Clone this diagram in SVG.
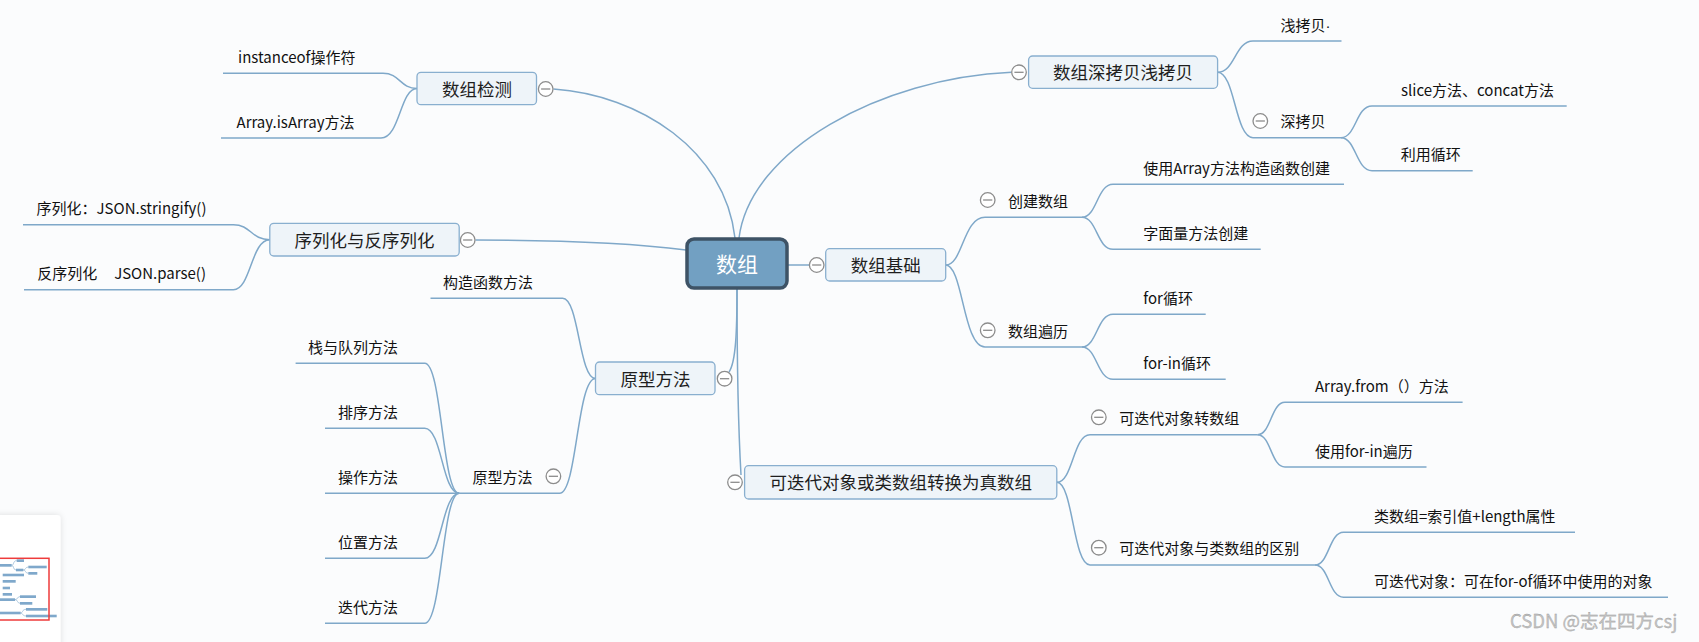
<svg xmlns="http://www.w3.org/2000/svg" width="1699" height="642" viewBox="0 0 1699 642">
<defs>
<style>
.bg{fill:#fbfcfd}
.cn{fill:none;stroke:#7fa8c9;stroke-width:1.5}
.box{fill:#eef4f9;stroke:#89afcf;stroke-width:1.3}
.bt{font-family:"Noto Sans CJK SC","Liberation Sans",sans-serif;font-size:17.5px;fill:#1e1e1e;text-anchor:middle}
.lt{font-family:"Noto Sans CJK SC","Liberation Sans",sans-serif;font-size:15px;fill:#111}
.le{text-anchor:end}
.cc{fill:#fff;stroke:#8c8c8c;stroke-width:1.3}
.cm{stroke:#8c8c8c;stroke-width:1.3}
.mb{fill:#7fa8cb}
.ml{fill:none;stroke:#9bbbd6;stroke-width:0.8}
</style>
<filter id="sh" x="-30%" y="-30%" width="160%" height="160%">
<feDropShadow dx="0" dy="0" stdDeviation="3" flood-color="#000" flood-opacity="0.12"/>
</filter>
<symbol id="col" viewBox="-8 -8 16 16" overflow="visible">
<circle class="cc" cx="0" cy="0" r="7.3"/>
<line class="cm" x1="-4.6" y1="0" x2="4.6" y2="0"/>
</symbol>
</defs>
<rect class="bg" x="0" y="0" width="1699" height="642"/>

<g id="connectors">
<path class="cn" d="M788,265 L809,265"/>
<path class="cn" d="M739,238 C750,150 880,78 1011.5,72.3"/>
<path class="cn" d="M735,238 C725,150 640,95 553.5,89"/>
<path class="cn" d="M686,250 C640,244 560,240 475.5,240"/>
<path class="cn" d="M737,289 C737,330 736,362 729,372"/>
<path class="cn" d="M737,289 C737,380 739,440 741,475"/>

<path class="cn" d="M945.7,265 C963,265 963,217.3 985,217.3 L1082,217.3"/>
<path class="cn" d="M945.7,265 C963,265 963,347 985,347 L1082,347"/>
<path class="cn" d="M1082,217.3 C1097,217.3 1097,184.3 1113,184.3 L1344,184.3"/>
<path class="cn" d="M1082,217.3 C1097,217.3 1097,249.3 1113,249.3 L1260.7,249.3"/>
<path class="cn" d="M1082,347 C1097,347 1097,314.3 1113,314.3 L1205.7,314.3"/>
<path class="cn" d="M1082,347 C1097,347 1097,379.3 1113,379.3 L1225.7,379.3"/>

<path class="cn" d="M1217.6,72.2 C1235,72.2 1235,41 1253,41 L1341.5,41"/>
<path class="cn" d="M1217.6,72.2 C1235,72.2 1235,137.7 1253,137.7 L1341,137.7"/>
<path class="cn" d="M1341,137.7 C1356,137.7 1356,106 1372,106 L1566.7,106"/>
<path class="cn" d="M1341,137.7 C1356,137.7 1356,170.7 1372,170.7 L1472.7,170.7"/>

<path class="cn" d="M1056.8,482.3 C1073,482.3 1073,434.7 1090,434.7 L1257.5,434.7"/>
<path class="cn" d="M1056.8,482.3 C1073,482.3 1073,565 1090,565 L1315,565"/>
<path class="cn" d="M1257.5,434.7 C1271,434.7 1271,402.3 1285,402.3 L1462.6,402.3"/>
<path class="cn" d="M1257.5,434.7 C1271,434.7 1271,467 1285,467 L1426.5,467"/>
<path class="cn" d="M1315,565 C1329,565 1329,532.3 1343.5,532.3 L1575,532.3"/>
<path class="cn" d="M1315,565 C1329,565 1329,597.3 1343.5,597.3 L1668,597.3"/>

<path class="cn" d="M417,88.5 C400,88.5 400,73.3 383,73.3 L223,73.3"/>
<path class="cn" d="M417,88.5 C400,88.5 400,138 381,138 L221,138"/>

<path class="cn" d="M269.8,239.7 C251,239.7 251,224.7 233.4,224.7 L23,224.7"/>
<path class="cn" d="M269.8,239.7 C251,239.7 251,289.7 233.4,289.7 L24,289.7"/>

<path class="cn" d="M595.5,378.5 C579,378.5 579,298.3 562.6,298.3 L430.5,298.3"/>
<path class="cn" d="M595.5,378.5 C577,378.5 577,493.3 559.6,493.3 L459.2,493.3"/>

<path class="cn" d="M459.2,493.3 C442,493.3 442,363.3 424.7,363.3 L295.6,363.3"/>
<path class="cn" d="M459.2,493.3 C442,493.3 442,428.3 424.7,428.3 L325,428.3"/>
<path class="cn" d="M459.2,493.3 L325,493.3"/>
<path class="cn" d="M459.2,493.3 C442,493.3 442,558.3 424.7,558.3 L325,558.3"/>
<path class="cn" d="M459.2,493.3 C442,493.3 442,623.3 424.7,623.3 L325,623.3"/>
</g>

<g id="n-root">
<rect x="687" y="239" width="100" height="49" rx="7" fill="#72a0c2" stroke="#3e5366" stroke-width="3.5"/>
<text x="737" y="271.5" font-family="'Noto Sans CJK SC','Liberation Sans',sans-serif" font-size="21" fill="#fff" text-anchor="middle">数组</text>
</g>

<g id="n-basic">
<use href="#col" x="808.7" y="257" width="16" height="16"/>
<rect class="box" x="825.7" y="248.7" width="120" height="32.3" rx="4"/>
<text class="bt" x="885.7" y="272">数组基础</text>
</g>
<g id="n-create">
<use href="#col" x="979.7" y="192" width="16" height="16"/>
<text class="lt" x="1008" y="206.5">创建数组</text>
</g>
<g id="n-create1"><text class="lt" x="1143.3" y="173.8">使用Array方法构造函数创建</text></g>
<g id="n-create2"><text class="lt" x="1143.3" y="238.8">字面量方法创建</text></g>
<g id="n-traverse">
<use href="#col" x="979.7" y="322.3" width="16" height="16"/>
<text class="lt" x="1008" y="336.5">数组遍历</text>
</g>
<g id="n-trav1"><text class="lt" x="1143.3" y="303.8">for循环</text></g>
<g id="n-trav2"><text class="lt" x="1143.3" y="368.8">for-in循环</text></g>

<g id="n-copy">
<use href="#col" x="1011" y="64.3" width="16" height="16"/>
<rect class="box" x="1028.6" y="56" width="189" height="32.3" rx="4"/>
<text class="bt" x="1123" y="79.2">数组深拷贝浅拷贝</text>
</g>
<g id="n-shallow"><text class="lt" x="1280.6" y="30.5">浅拷贝<tspan font-family="'Liberation Sans',sans-serif">·</tspan></text></g>
<g id="n-deep">
<use href="#col" x="1252.3" y="113" width="16" height="16"/>
<text class="lt" x="1280.6" y="127">深拷贝</text>
</g>
<g id="n-deep1"><text class="lt" x="1401" y="95.5">slice方法、concat方法</text></g>
<g id="n-deep2"><text class="lt" x="1400.7" y="160.2">利用循环</text></g>

<g id="n-iter">
<use href="#col" x="727" y="474.3" width="16" height="16"/>
<rect class="box" x="744.6" y="465.7" width="312.2" height="33.3" rx="4"/>
<text class="bt" x="900.7" y="489.3">可迭代对象或类数组转换为真数组</text>
</g>
<g id="n-iter-a">
<use href="#col" x="1090.8" y="409.3" width="16" height="16"/>
<text class="lt" x="1119.3" y="423.7">可迭代对象转数组</text>
</g>
<g id="n-iter-a1"><text class="lt" x="1315" y="391.8">Array.from（）方法</text></g>
<g id="n-iter-a2"><text class="lt" x="1315" y="456.5">使用for-in遍历</text></g>
<g id="n-iter-b">
<use href="#col" x="1090.8" y="539.7" width="16" height="16"/>
<text class="lt" x="1119.3" y="554">可迭代对象与类数组的区别</text>
</g>
<g id="n-iter-b1"><text class="lt" x="1374" y="521.8">类数组=索引值+length属性</text></g>
<g id="n-iter-b2"><text class="lt" x="1374" y="586.8">可迭代对象：可在for-of循环中使用的对象</text></g>

<g id="n-check">
<use href="#col" x="537.7" y="81" width="16" height="16"/>
<rect class="box" x="417" y="72.3" width="119.5" height="32.4" rx="4"/>
<text class="bt" x="477" y="95.5">数组检测</text>
</g>
<g id="n-check1"><text class="lt le" x="355.5" y="62.8">instanceof操作符</text></g>
<g id="n-check2"><text class="lt le" x="354.5" y="127.5">Array.isArray方法</text></g>

<g id="n-json">
<use href="#col" x="459.7" y="232" width="16" height="16"/>
<rect class="box" x="269.8" y="223.3" width="189.4" height="32.7" rx="4"/>
<text class="bt" x="364.5" y="246.7">序列化与反序列化</text>
</g>
<g id="n-json1"><text class="lt le" x="206.5" y="214.2">序列化：JSON.stringify()</text></g>
<g id="n-json2"><text class="lt le" x="206" y="279.2" xml:space="preserve">反序列化     JSON.parse()</text></g>

<g id="n-proto">
<use href="#col" x="716.6" y="370.7" width="16" height="16"/>
<rect class="box" x="595.5" y="362" width="119.5" height="32.7" rx="4"/>
<text class="bt" x="655.5" y="385.5">原型方法</text>
</g>
<g id="n-proto-ctor"><text class="lt le" x="533" y="287.8">构造函数方法</text></g>
<g id="n-proto-sub">
<use href="#col" x="545.4" y="468.3" width="16" height="16"/>
<text class="lt le" x="532.5" y="482.8">原型方法</text>
</g>
<g id="n-p1"><text class="lt le" x="398" y="352.8">栈与队列方法</text></g>
<g id="n-p2"><text class="lt le" x="398" y="417.8">排序方法</text></g>
<g id="n-p3"><text class="lt le" x="398" y="482.8">操作方法</text></g>
<g id="n-p4"><text class="lt le" x="398" y="547.8">位置方法</text></g>
<g id="n-p5"><text class="lt le" x="398" y="612.8">迭代方法</text></g>

<g id="minimap">
<rect x="-6" y="515" width="66.5" height="140" rx="4" fill="#fff" filter="url(#sh)"/>
<path class="ml" d="M11.7,565.3 C14,565.3 13,560.6 16.7,560.6 M11.7,565.3 C14,565.3 13,570 16,570 M23.3,570 C26,570 25,567 28.3,567 M23.3,570 C26,570 25,573.3 28.3,573.3 M15,599.6 C18,599.6 17,596.6 20,596.6 M15,599.6 C18,599.6 17,603.3 20,603.3 M20.7,613 C23,613 22,609.3 26,609.3 M20.7,613 C23,613 22,616 26,616"/>
<rect class="mb" x="16.7" y="559.3" width="7.3" height="2.7"/>
<rect class="mb" x="0" y="564" width="11.7" height="2.7"/>
<rect class="mb" x="16" y="568.7" width="7.3" height="2.6"/>
<rect class="mb" x="28.3" y="565.7" width="18.4" height="2.6"/>
<rect class="mb" x="28.3" y="572" width="9" height="2.7"/>
<rect class="mb" x="2.7" y="573.7" width="21.3" height="2.6"/>
<rect class="mb" x="2.7" y="580" width="13" height="2.7"/>
<rect class="mb" x="2.7" y="586.7" width="7.3" height="2.6"/>
<rect class="mb" x="2.7" y="593" width="9.3" height="2.7"/>
<rect class="mb" x="0" y="598.3" width="15" height="2.7"/>
<rect class="mb" x="20" y="595.3" width="16" height="2.7"/>
<rect class="mb" x="20" y="602" width="12.3" height="2.7"/>
<rect class="mb" x="0" y="611.7" width="20.7" height="2.6"/>
<rect class="mb" x="26" y="608" width="21.3" height="2.7"/>
<rect class="mb" x="26" y="614.7" width="30.7" height="2.6"/>
<rect x="-1" y="558.3" width="50" height="61.7" fill="none" stroke="#ee3b3b" stroke-width="1.5"/>
</g>

<text x="1510" y="628" font-family="'Noto Sans CJK SC','Liberation Sans',sans-serif" font-size="18.5" fill="#c4c4c4" stroke="#9a9a9a" stroke-width="0.3">CSDN @志在四方csj</text>
</svg>
